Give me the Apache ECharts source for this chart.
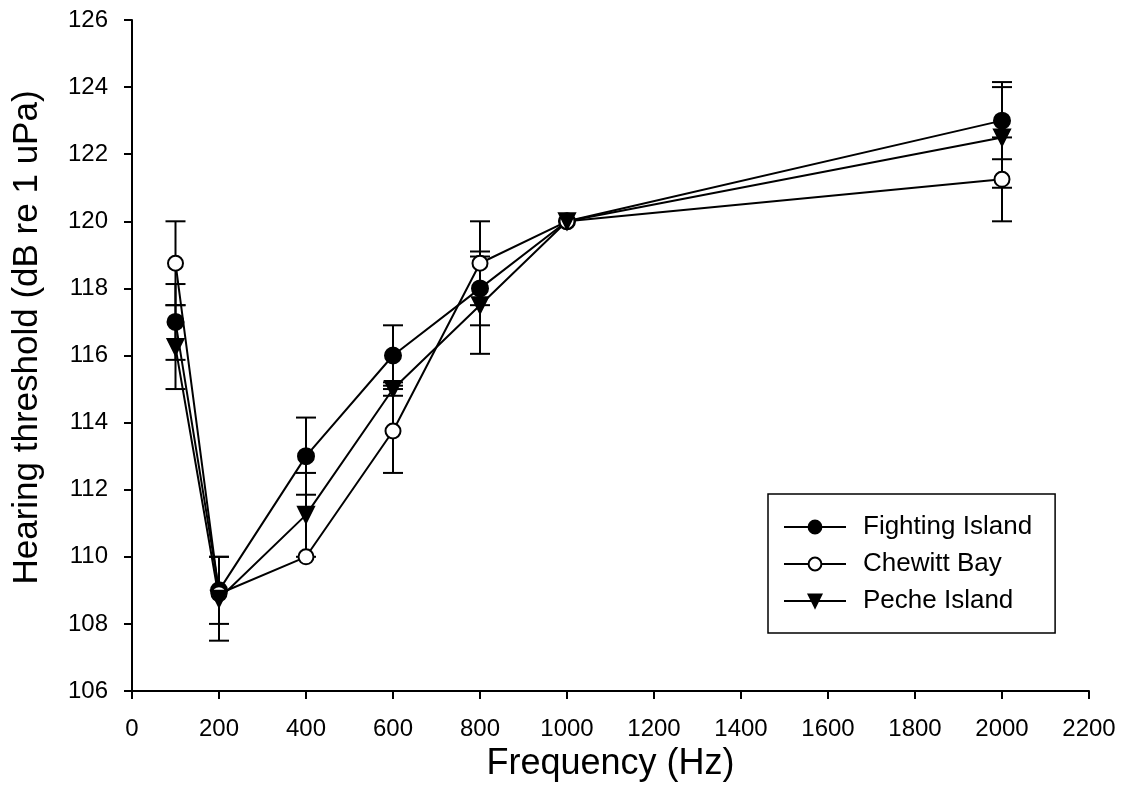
<!DOCTYPE html>
<html><head><meta charset="utf-8">
<script src="https://cdn.jsdelivr.net/npm/echarts@6/dist/echarts.min.js"></script>
<style>html,body{margin:0;padding:0;background:#fff}#c{width:1131px;height:810px}</style>
</head><body><div id="c"></div>
<script>
const freqs = [100, 200, 400, 600, 800, 1000, 2000];
const fightingMean = [117, 109, 113, 116, 118, 120, 123];
const fightingErr  = [1.13, 1.0, 1.15, 0.9, 1.1, 0, 1.15];
const chewittMean  = [118.75, 108.9, 110, 113.75, 118.75, 120, 121.25];
const chewittErr   = [1.25, 0, 0, 1.25, 1.25, 0, 1.25];
const pecheMean    = [116.25, 108.75, 111.25, 115, 117.5, 120, 122.5];
const pecheErr     = [1.25, 1.25, 1.25, 0.2, 1.45, 0, 1.5];
const xTicks = [0, 200, 400, 600, 800, 1000, 1200, 1400, 1600, 1800, 2000, 2200];
const yTicks = [106, 108, 110, 112, 114, 116, 118, 120, 122, 124, 126];

const FONT = '"Liberation Sans", Arial, sans-serif';
const chart = echarts.init(document.getElementById('c'), null, {renderer: 'canvas'});

function errData(mean, err) {
  return freqs.map((f, i) => [f, mean[i] - err[i], mean[i] + err[i]]);
}
function errSeries(mean, err) {
  return {
    type: 'custom', z: 1, silent: true,
    data: errData(mean, err),
    renderItem: function (params, api) {
      if (api.value(2) - api.value(1) < 1e-6) return null;
      const lo = api.coord([api.value(0), api.value(1)]);
      const hi = api.coord([api.value(0), api.value(2)]);
      const w = 10;
      const st = {stroke: '#000', lineWidth: 2};
      return {type: 'group', children: [
        {type: 'line', shape: {x1: lo[0], y1: lo[1], x2: hi[0], y2: hi[1]}, style: st},
        {type: 'line', shape: {x1: hi[0] - w, y1: hi[1], x2: hi[0] + w, y2: hi[1]}, style: st},
        {type: 'line', shape: {x1: lo[0] - w, y1: lo[1], x2: lo[0] + w, y2: lo[1]}, style: st}
      ]};
    }
  };
}
function lineSeries(name, mean, symbol, fill, size) {
  return {
    name: name, type: 'line', z: 3,
    data: freqs.map((f, i) => [f, mean[i]]),
    symbol: symbol, symbolSize: size, showSymbol: true,
    lineStyle: {color: '#000', width: 2},
    itemStyle: {color: fill, borderColor: '#000', borderWidth: 2},
    emphasis: {disabled: true}, animation: false
  };
}

const option = {
  animation: false,
  backgroundColor: '#fff',
  grid: {left: 132, top: 20, right: 42, bottom: 119, containLabel: false},
  xAxis: {
    type: 'value', min: 0, max: 2200, interval: 200,
    name: 'Frequency (Hz)', nameLocation: 'middle', nameGap: 55,
    nameTextStyle: {fontFamily: FONT, fontSize: 36, color: '#000'},
    axisLine: {show: true, onZero: false, lineStyle: {color: '#000', width: 2}},
    axisTick: {show: true, inside: false, length: 8, lineStyle: {color: '#000', width: 2}},
    axisLabel: {fontFamily: FONT, fontSize: 24, color: '#000', margin: 26,
      formatter: v => xTicks.includes(v) ? String(v) : ''},
    splitLine: {show: false}
  },
  yAxis: {
    type: 'value', min: 106, max: 126, interval: 2,
    name: 'Hearing threshold (dB re 1 uPa)', nameLocation: 'middle', nameGap: 87,
    nameTextStyle: {fontFamily: FONT, fontSize: 35, color: '#000', padding: [0, 0, 0, 36]},
    axisLine: {show: true, onZero: false, lineStyle: {color: '#000', width: 2}},
    axisTick: {show: true, inside: false, length: 8, lineStyle: {color: '#000', width: 2}},
    axisLabel: {fontFamily: FONT, fontSize: 24, color: '#000', margin: 24,
      formatter: v => yTicks.includes(v) ? String(v) : ''},
    splitLine: {show: false}
  },
  legend: {
    show: true, orient: 'vertical', left: 768, top: 494,
    backgroundColor: '#fff', borderColor: '#000', borderWidth: 1.5,
    padding: [20, 23, 19, 15], itemGap: 11, itemWidth: 62, itemHeight: 16,
    textStyle: {fontFamily: FONT, fontSize: 26, color: '#000', padding: [0, 0, 0, 12]},
    data: ['Fighting Island', 'Chewitt Bay', 'Peche Island']
  },
  series: [
    errSeries(fightingMean, fightingErr),
    errSeries(chewittMean, chewittErr),
    errSeries(pecheMean, pecheErr),
    lineSeries('Fighting Island', fightingMean, 'circle', '#000', 16),
    lineSeries('Chewitt Bay', chewittMean, 'circle', '#fff', 15),
    lineSeries('Peche Island', pecheMean, 'triangle', '#000', 16)
  ]
};
option.series[5].symbolRotate = 180;
chart.setOption(option);
</script></body></html>
